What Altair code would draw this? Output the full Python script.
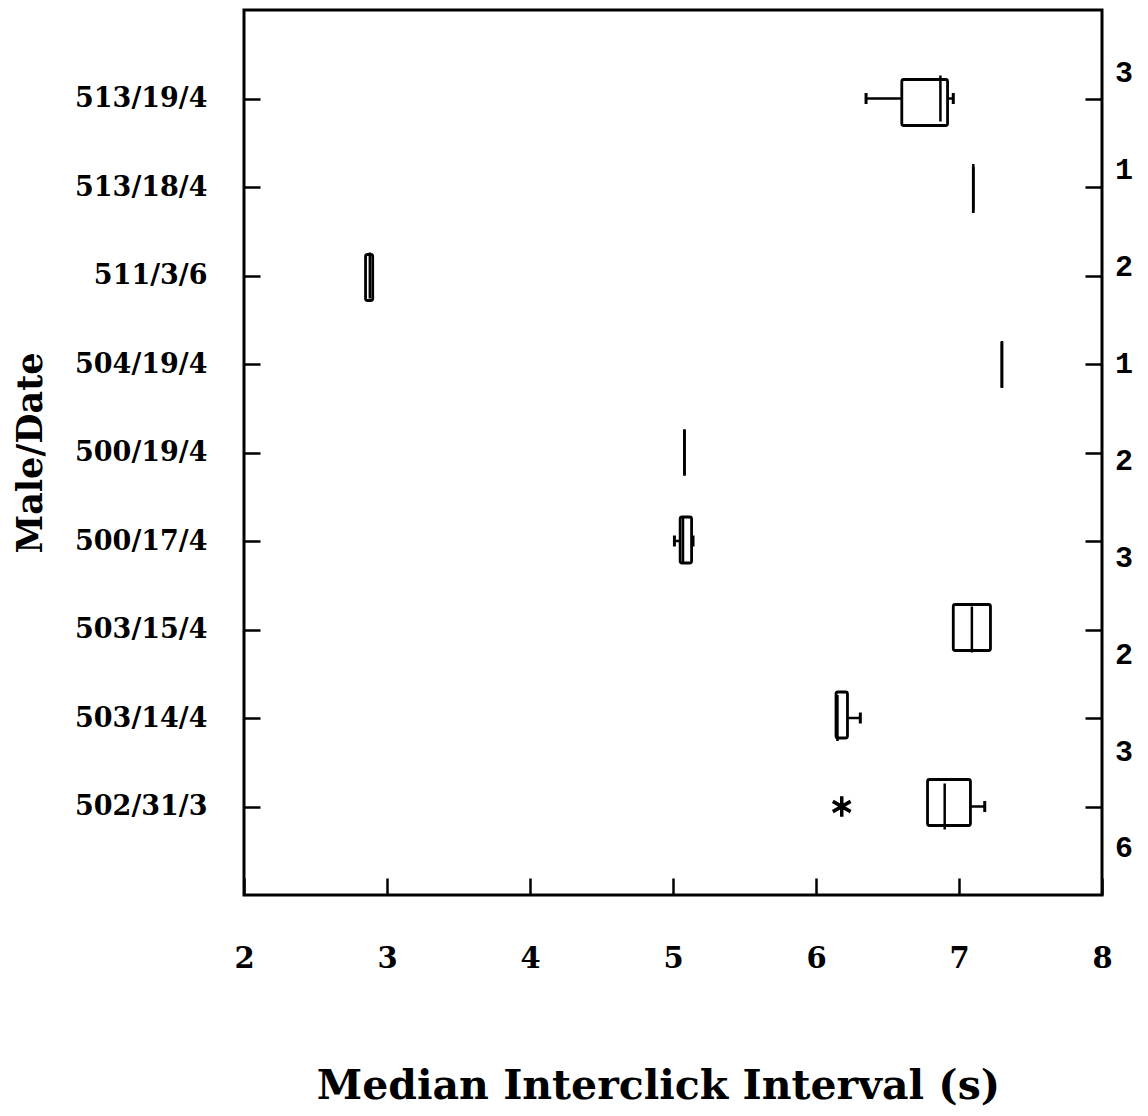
import altair as alt
import pandas as pd

# Male/Date groups, top to bottom
groups = ["513/19/4", "513/18/4", "511/3/6", "504/19/4", "500/19/4",
          "500/17/4", "503/15/4", "503/14/4", "502/31/3"]
# number of recordings per group (right-hand column)
counts = [3, 1, 2, 1, 2, 3, 2, 3, 6]

# box-plot summaries of the median interclick interval (s)
lower = [6.35, 7.10, 2.85, 7.30, 5.08, 5.01, 6.96, 6.14, 6.78]
q1 = [6.60, 7.10, 2.85, 7.30, 5.08, 5.05, 6.96, 6.14, 6.78]
median = [6.87, 7.10, 2.88, 7.30, 5.08, 5.07, 7.09, 6.15, 6.90]
q3 = [6.92, 7.10, 2.90, 7.30, 5.08, 5.13, 7.22, 6.22, 7.08]
upper = [6.96, 7.10, 2.90, 7.30, 5.08, 5.14, 7.22, 6.31, 7.18]

# outlying values
outlier_groups = ["502/31/3"]
outlier_values = [6.18]

x_ticks = [2, 3, 4, 5, 6, 7, 8]

SERIF = "DejaVu Serif"
W, H = 858, 885

box = pd.DataFrame({
    "group": groups, "idx": list(range(len(groups))), "n": counts,
    "lower": lower, "q1": q1, "median": median, "q3": q3, "upper": upper,
})
lo_whisk = box[box["lower"] < box["q1"]]
hi_whisk = box[box["upper"] > box["q3"]]
out = pd.DataFrame({
    "idx": [groups.index(g) for g in outlier_groups],
    "value": outlier_values,
})

x_scale = alt.Scale(domain=[2, 8], nice=False, zero=False)
y_scale = alt.Scale(domain=[-1, len(groups)], reverse=True, nice=False, zero=False)

label_expr = "[" + ",".join("'%s'" % g for g in groups) + "][datum.value]"

x_axis = alt.Axis(values=x_ticks, format="d", title="Median Interclick Interval (s)",
                  domain=False, grid=False, offset=-17, tickSize=17, tickWidth=2.5,
                  tickColor="black", labelFlush=False, labelFont=SERIF,
                  labelFontWeight="bold", labelFontSize=29, labelColor="black",
                  labelPadding=49, titleFont=SERIF, titleFontWeight="bold",
                  titleFontSize=41, titleColor="black", titlePadding=93,
                  titleX=414)

y_left = alt.Axis(values=list(range(len(groups))), labelExpr=label_expr,
                  title="Male/Date", orient="left", domain=False, grid=False,
                  offset=-16, tickSize=16, tickWidth=2.5, tickColor="black",
                  labelFont=SERIF, labelFontWeight="bold", labelFontSize=27,
                  labelColor="black", labelPadding=37, titleFont=SERIF,
                  titleFontWeight="bold", titleFontSize=35, titleColor="black",
                  titlePadding=26)

y_right = alt.Axis(values=list(range(len(groups))), labels=False, title=None,
                   orient="right", domain=False, grid=False, offset=-17,
                   tickSize=17, tickWidth=2.5, tickColor="black")

def y_enc(axis=None, scale=y_scale):
    return alt.Y("idx:Q", scale=scale, axis=axis)

whisk_lo = alt.Chart(lo_whisk).mark_rule(color="black", strokeWidth=2.5).encode(
    x=alt.X("lower:Q", scale=x_scale, axis=x_axis), x2="q1:Q", y=y_enc(y_left))
whisk_hi = alt.Chart(hi_whisk).mark_rule(color="black", strokeWidth=2.5).encode(
    x=alt.X("q3:Q", scale=x_scale), x2="upper:Q", y=y_enc())
cap_lo = alt.Chart(lo_whisk).mark_tick(color="black", orient="vertical", size=11,
                                       thickness=3, opacity=1).encode(
    x=alt.X("lower:Q", scale=x_scale), y=y_enc())
cap_hi = alt.Chart(hi_whisk).mark_tick(color="black", orient="vertical", size=11,
                                       thickness=3, opacity=1).encode(
    x=alt.X("upper:Q", scale=x_scale), y=y_enc())
boxes = alt.Chart(box).mark_bar(fill="white", stroke="black", strokeWidth=2.8,
                                size=46, cornerRadius=2).encode(
    x=alt.X("q1:Q", scale=x_scale), x2="q3:Q", y=y_enc())
medians = alt.Chart(box).mark_tick(color="black", orient="vertical", size=46,
                                   thickness=2.5, opacity=1).encode(
    x=alt.X("median:Q", scale=x_scale), y=y_enc())
asterisk = "M0,-1L0,1M-0.87,-0.5L0.87,0.5M-0.87,0.5L0.87,-0.5"
outliers = alt.Chart(out).mark_point(shape=asterisk, filled=False, color="black",
                                     strokeWidth=3.5, size=420, opacity=1).encode(
    x=alt.X("value:Q", scale=x_scale), y=y_enc())

right_ticks = alt.Chart(box).mark_point(opacity=0).encode(
    x=alt.X("median:Q", scale=x_scale), y=y_enc(y_right))

count_scale = alt.Scale(domain=[-0.65, 8.48], reverse=True, nice=False, zero=False)
count_text = alt.Chart(box).mark_text(align="left", baseline="middle", dx=13,
                                      font="Liberation Mono", fontSize=30,
                                      fontWeight="bold", color="black").encode(
    x=alt.datum(8, scale=x_scale), y=y_enc(scale=count_scale), text="n:Q")

chart = alt.layer(
    whisk_lo, whisk_hi, cap_lo, cap_hi, boxes, medians, outliers, right_ticks,
    count_text,
).resolve_scale(y="independent").properties(
    width=W, height=H,
    padding={"left": 13, "top": 10, "right": 5, "bottom": 5},
).configure(
    background="white",
    view=alt.ViewConfig(stroke="black", strokeWidth=3),
)

chart.save("out.html", embed_options={"renderer": "svg", "actions": False})
